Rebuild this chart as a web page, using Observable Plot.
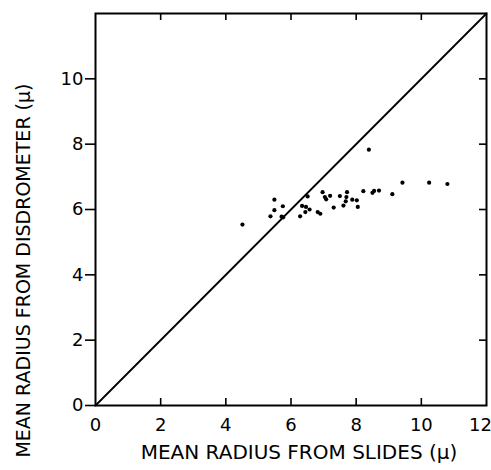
<!DOCTYPE html>
<html>
<head>
<meta charset="utf-8">
<script src="https://cdn.jsdelivr.net/npm/d3@7"></script>
<script src="https://cdn.jsdelivr.net/npm/@observablehq/plot@0.6"></script>
<style>
  html, body { margin: 0; padding: 0; background: #fff; }
</style>
</head>
<body>
<div id="chart"></div>
<script>
// Mean radius from slides (x) vs. from disdrometer (y), microns
const slidesRadius = [4.51, 5.37, 5.49, 5.49, 5.75, 5.71, 5.76, 6.28, 6.34, 6.46, 6.44, 6.57, 6.51, 6.82, 6.90, 6.97, 7.04, 7.08, 7.20, 7.31, 7.50, 7.61, 7.72, 7.70, 7.68, 7.88, 8.02, 8.05, 8.39, 8.22, 8.50, 8.55, 8.70, 9.11, 9.42, 10.24, 10.80];
const disdroRadius = [5.54, 5.79, 6.30, 5.98, 6.10, 5.78, 5.76, 5.79, 6.11, 6.08, 5.92, 6.00, 6.40, 5.92, 5.87, 6.53, 6.38, 6.31, 6.42, 6.06, 6.41, 6.12, 6.53, 6.38, 6.25, 6.30, 6.28, 6.08, 7.83, 6.56, 6.51, 6.57, 6.58, 6.47, 6.82, 6.82, 6.78];
const diagonal = [0, 12];
const xTickLabels = [0, 2, 4, 6, 8, 10, 12];
const yTickLabels = [0, 2, 4, 6, 8, 10];
const innerTicks = [2, 4, 6, 8, 10];
const xLabel = "MEAN RADIUS FROM SLIDES (μ)";
const yLabel = "MEAN RADIUS FROM DISDROMETER (μ)";

const points = slidesRadius.map((x, i) => ({x, y: disdroRadius[i]}));

const W = 491, H = 470;
const mT = 13, mB = 65, mL = 95, mR = 5;
const innerH = H - mT - mB;
const innerW = W - mL - mR;
const tickLen = 7;
const font = "DejaVu Sans, sans-serif";
const lastX = xTickLabels[xTickLabels.length - 1];

const chart = Plot.plot({
  width: W,
  height: H,
  marginTop: mT,
  marginBottom: mB,
  marginLeft: mL,
  marginRight: mR,
  style: {fontFamily: font, fontSize: "18px", color: "#000", background: "#fff"},
  x: {domain: [0, 12]},
  y: {domain: [0, 12]},
  marks: [
    Plot.frame({stroke: "#000", strokeWidth: 2}),
    Plot.axisX(xTickLabels.filter(d => d !== lastX), {anchor: "bottom", tickSize: 0, tickPadding: 13, label: null, fontSize: 18}),
    Plot.axisX([lastX], {anchor: "bottom", tickSize: 0, tickPadding: 13, label: null, fontSize: 18, dx: -6}),
    Plot.axisY(yTickLabels, {anchor: "left", tickSize: 10, tickPadding: 2, strokeWidth: 1.6, label: null, fontSize: 18}),
    Plot.tickX(innerTicks, {x: d => d, insetTop: innerH - tickLen, stroke: "#000", strokeWidth: 1.6}),
    Plot.tickX(innerTicks, {x: d => d, insetBottom: innerH - tickLen, stroke: "#000", strokeWidth: 1.6}),
    Plot.tickY(innerTicks, {y: d => d, insetLeft: innerW - tickLen, stroke: "#000", strokeWidth: 1.6}),
    Plot.line(diagonal, {x: d => d, y: d => d, stroke: "#000", strokeWidth: 1.8}),
    Plot.dot(points, {x: "x", y: "y", r: 2.1, fill: "#000", stroke: "none"}),
    Plot.text([xLabel], {frameAnchor: "bottom", text: d => d, dy: 53, dx: 8, fontSize: 20, textAnchor: "middle", fill: "#000", letterSpacing: "1px"}),
    Plot.text([yLabel], {frameAnchor: "left", text: d => d, dx: -72, dy: 61, rotate: -90, fontSize: 19, textAnchor: "middle", fill: "#000", letterSpacing: "0.4px"})
  ]
});
document.getElementById("chart").appendChild(chart);
</script>
</body>
</html>
